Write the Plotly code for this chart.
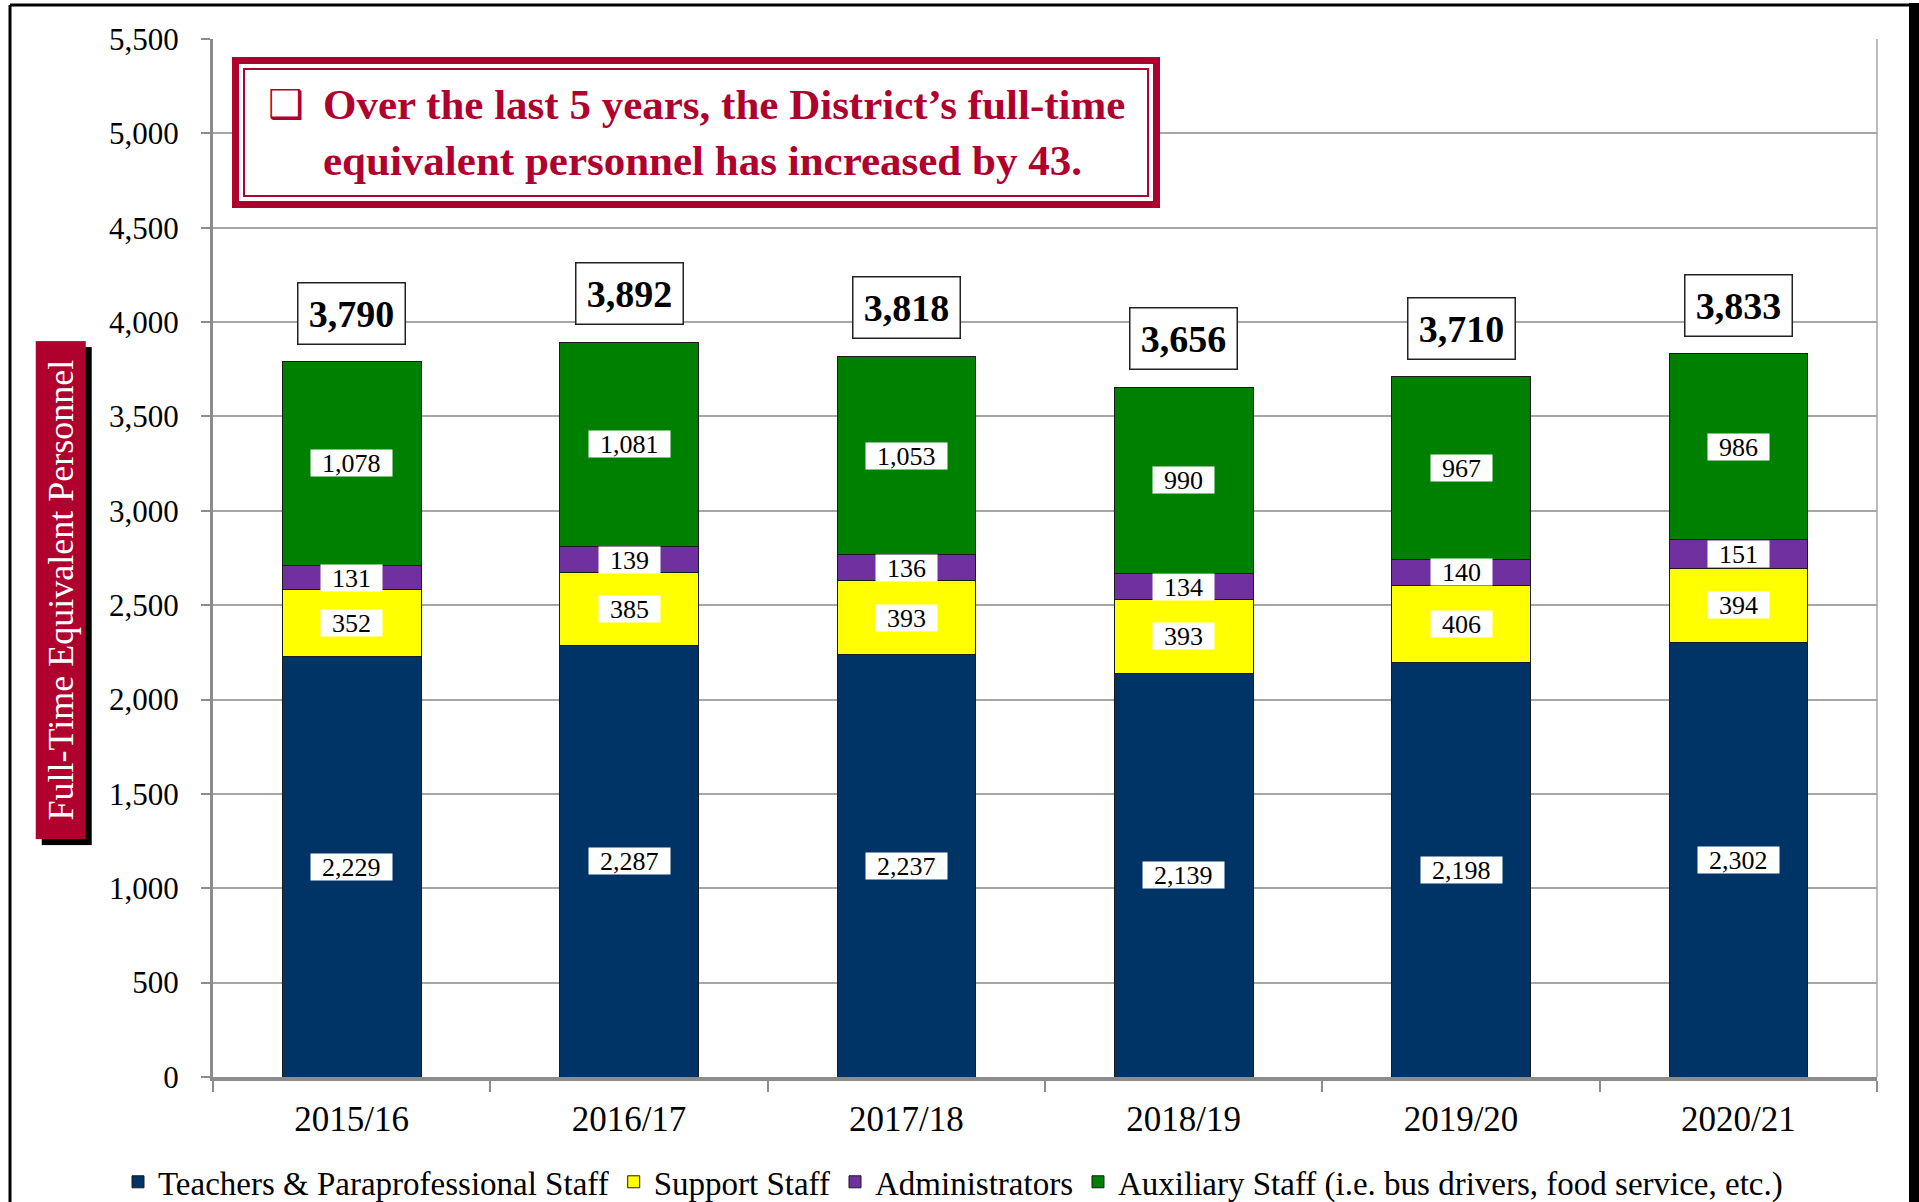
import plotly.graph_objects as go

years = ["2015/16", "2016/17", "2017/18", "2018/19", "2019/20", "2020/21"]
teachers = [2229, 2287, 2237, 2139, 2198, 2302]
support = [352, 385, 393, 393, 406, 394]
admins = [131, 139, 136, 134, 140, 151]
auxiliary = [1078, 1081, 1053, 990, 967, 986]
totals = [3790, 3892, 3818, 3656, 3710, 3833]

series = [
    ("Teachers & Paraprofessional Staff", teachers, "#003366"),
    ("Support Staff", support, "#FFFF00"),
    ("Administrators", admins, "#7030A0"),
    ("Auxiliary Staff (i.e. bus drivers, food service, etc.)", auxiliary, "#008000"),
]

SERIF = "Liberation Serif, Times New Roman, serif"
RED = "#B0002E"

fig = go.Figure()
for name, vals, color in series:
    fig.add_trace(go.Bar(
        x=years, y=vals, name=name,
        marker=dict(color=color, line=dict(color="#1a1a1a", width=1)),
        hoverinfo="skip",
    ))

annotations = []
# segment labels
base = [0] * len(years)
for name, vals, color in series:
    for i, v in enumerate(vals):
        txt = f"{v:,}"
        nd = sum(c.isdigit() for c in txt)
        nc = txt.count(",")
        annotations.append(dict(
            x=years[i], y=base[i] + v / 2, xref="x", yref="y",
            text=txt, showarrow=False,
            font=dict(family=SERIF, size=26, color="black"),
            bgcolor="white", borderpad=0,
            width=13 * nd + 6.5 * nc + 22, height=26,
        ))
        base[i] += v

# totals
for i, t in enumerate(totals):
    annotations.append(dict(
        x=years[i], y=base[i], xref="x", yref="y", yanchor="bottom",
        yshift=17, text=f"<b>{t:,}</b>", showarrow=False,
        font=dict(family=SERIF, size=38, color="black"),
        bgcolor="white", bordercolor="#222222", borderwidth=1.5,
        borderpad=8, width=90, height=44,
    ))

# y-axis title box (shadow + red)
for col, fcol, dx, dy in [("black", "black", 6, -6), (RED, "white", 0, 0)]:
    annotations.append(dict(
        x=-0.0917, y=0.469, xref="paper", yref="paper",
        xanchor="center", yanchor="middle",
        text="Full-Time Equivalent Personnel", textangle=-90, showarrow=False,
        font=dict(family=SERIF, size=36, color=fcol),
        bgcolor=col, borderpad=0, width=497, height=49,
        xshift=dx, yshift=dy,
    ))

# callout text
annotations.append(dict(
    x=(286 - 213) / 1664, y=(1077 - 104) / 1038, xref="paper", yref="paper",
    xanchor="center", yanchor="middle", text="❑", showarrow=False,
    font=dict(family="DejaVu Sans", size=40, color=RED),
))
annotations.append(dict(
    x=(321 - 213) / 1664, y=(1077 - 132) / 1038, xref="paper", yref="paper",
    xanchor="left", yanchor="middle", align="left", showarrow=False,
    text="<b>Over the last 5 years, the District’s full-time<br>equivalent personnel has increased by 43.</b>",
    font=dict(family=SERIF, size=43, color=RED),
))

shapes = [
    # callout outer thick border
    dict(type="rect", xref="paper", yref="paper",
         x0=(235.5 - 213) / 1664, x1=(1156.5 - 213) / 1664,
         y0=(1077 - 204.5) / 1038, y1=(1077 - 60.5) / 1038,
         line=dict(color=RED, width=7), fillcolor="white", layer="above"),
    # callout inner thin border
    dict(type="rect", xref="paper", yref="paper",
         x0=(244 - 213) / 1664, x1=(1148 - 213) / 1664,
         y0=(1077 - 196) / 1038, y1=(1077 - 69) / 1038,
         line=dict(color=RED, width=2), layer="above"),
    # right plot border
    dict(type="line", xref="paper", yref="paper", x0=1, x1=1, y0=0, y1=1,
         line=dict(color="#A6A6A6", width=1.5)),
    # outer frame
    dict(type="line", xref="paper", yref="paper",
         x0=(10 - 213) / 1664, x1=(1915 - 213) / 1664,
         y0=(1077 - 5) / 1038, y1=(1077 - 5) / 1038,
         line=dict(color="black", width=3)),
    dict(type="line", xref="paper", yref="paper",
         x0=(10 - 213) / 1664, x1=(10 - 213) / 1664,
         y0=(1077 - 5) / 1038, y1=(1077 - 1210) / 1038,
         line=dict(color="black", width=3)),
    dict(type="line", xref="paper", yref="paper",
         x0=(1914 - 213) / 1664, x1=(1914 - 213) / 1664,
         y0=(1077 - 3) / 1038, y1=(1077 - 1210) / 1038,
         line=dict(color="black", width=10)),
]

fig.update_layout(
    barmode="stack", bargap=0.5,
    width=1919, height=1202,
    margin=dict(l=213, r=42, t=39, b=125, autoexpand=False),
    paper_bgcolor="white", plot_bgcolor="white",
    font=dict(family=SERIF, color="black"),
    showlegend=True,
    legend=dict(orientation="h", x=(118 - 213) / 1664, xanchor="left", y=-0.101,
                yanchor="middle", font=dict(family=SERIF, size=33),
                traceorder="normal", itemclick=False, itemwidth=30),
    annotations=annotations, shapes=shapes,
    yaxis=dict(range=[0, 5500], dtick=500, tickformat=",d",
               showgrid=True, gridcolor="#A6A6A6", gridwidth=1.5,
               showline=True, linecolor="#8C8C8C", linewidth=3,
               ticks="outside", ticklen=9, tickcolor="#8C8C8C", tickwidth=2,
               tickfont=dict(family=SERIF, size=31), ticklabelstandoff=16,
               zeroline=False, fixedrange=True),
    xaxis=dict(showline=True, linecolor="#8C8C8C", linewidth=4,
               ticks="outside", tickson="boundaries", ticklen=11,
               tickcolor="#8C8C8C", tickwidth=2,
               tickfont=dict(family=SERIF, size=35), ticklabelstandoff=8,
               fixedrange=True),
)

fig.write_html("out.html", config={"displayModeBar": False},
               post_script="document.body.style.margin='0';document.body.style.overflow='hidden';")
